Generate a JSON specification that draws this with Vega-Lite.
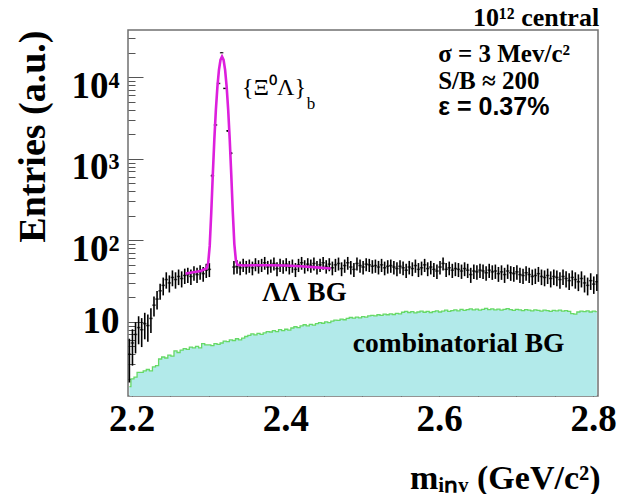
{
  "$schema": "https://vega.github.io/schema/vega-lite/v6.json",
  "width": 470,
  "height": 366,
  "autosize": {"type": "none"},
  "padding": {"left": 128, "top": 30, "right": 20, "bottom": 98},
  "background": "white",
  "config": {"view": {"stroke": "#707070", "strokeWidth": 1.5}, "font": "Liberation Serif"},
  "title": {"text": "10¹² central", "anchor": "end", "font": "Liberation Serif", "fontWeight": "bold", "fontSize": 26, "color": "black", "offset": 4, "dx": -17, "dy": 7},
  "datasets": {
    "h": [
      {"x":2.197,"y":4,"e":2.2},{"x":2.201,"y":5.5,"e":2.6},{"x":2.205,"y":7,"e":2.9},{"x":2.209,"y":8.5,"e":3.2},{"x":2.213,"y":8,"e":3.1},{"x":2.217,"y":9.5,"e":3.4},{"x":2.221,"y":9,"e":3.3},{"x":2.225,"y":11,"e":3.7},{"x":2.229,"y":16,"e":4.4},{"x":2.233,"y":19,"e":4.8},
      {"x":2.237,"y":24,"e":5.4},{"x":2.241,"y":28,"e":6.9},{"x":2.245,"y":33,"e":7.5},{"x":2.249,"y":30,"e":7.1},{"x":2.253,"y":35,"e":7.7},{"x":2.257,"y":33,"e":7.5},{"x":2.261,"y":36,"e":7.8},{"x":2.265,"y":34,"e":7.6},{"x":2.269,"y":37,"e":7.9},{"x":2.273,"y":38,"e":8.0},
      {"x":2.277,"y":36,"e":7.8},{"x":2.281,"y":40,"e":8.2},{"x":2.285,"y":38,"e":8.0},{"x":2.289,"y":41,"e":8.3},{"x":2.293,"y":39,"e":8.1},{"x":2.297,"y":43,"e":8.5},{"x":2.301,"y":44,"e":8.6},{"x":2.305,"y":620,"e":27},{"x":2.309,"y":2600,"e":56},{"x":2.313,"y":8400,"e":100},
      {"x":2.317,"y":20000,"e":156},{"x":2.321,"y":7300,"e":94},{"x":2.325,"y":2200,"e":52},{"x":2.329,"y":1170,"e":38},{"x":2.333,"y":47,"e":8.9},{"x":2.337,"y":48,"e":9.0},{"x":2.341,"y":46,"e":8.8},{"x":2.345,"y":50,"e":9.2},{"x":2.349,"y":47,"e":8.9},{"x":2.353,"y":49,"e":9.1},
      {"x":2.357,"y":46,"e":8.8},{"x":2.361,"y":51,"e":9.3},{"x":2.365,"y":48,"e":9.0},{"x":2.369,"y":50,"e":9.2},{"x":2.373,"y":53,"e":9.5},{"x":2.377,"y":47,"e":8.9},{"x":2.381,"y":49,"e":9.1},{"x":2.385,"y":52,"e":9.4},{"x":2.389,"y":45,"e":8.7},{"x":2.393,"y":50,"e":9.2},
      {"x":2.397,"y":48,"e":9.0},{"x":2.401,"y":51,"e":9.3},{"x":2.405,"y":47,"e":8.9},{"x":2.409,"y":49,"e":9.1},{"x":2.413,"y":44,"e":8.6},{"x":2.417,"y":50,"e":9.2},{"x":2.421,"y":53,"e":9.5},{"x":2.425,"y":48,"e":9.0},{"x":2.429,"y":51,"e":9.3},{"x":2.433,"y":49,"e":9.1},
      {"x":2.437,"y":52,"e":9.4},{"x":2.441,"y":47,"e":8.9},{"x":2.445,"y":50,"e":9.2},{"x":2.449,"y":53,"e":9.5},{"x":2.453,"y":48,"e":9.0},{"x":2.457,"y":51,"e":9.3},{"x":2.461,"y":46,"e":8.8},{"x":2.465,"y":50,"e":9.2},{"x":2.469,"y":52,"e":9.4},{"x":2.473,"y":45,"e":8.7},
      {"x":2.477,"y":49,"e":9.1},{"x":2.481,"y":53,"e":9.5},{"x":2.485,"y":47,"e":8.9},{"x":2.489,"y":44,"e":8.6},{"x":2.493,"y":52,"e":9.4},{"x":2.497,"y":49,"e":9.1},{"x":2.501,"y":47,"e":8.9},{"x":2.505,"y":51,"e":9.3},{"x":2.509,"y":50,"e":9.2},{"x":2.513,"y":48,"e":9.0},
      {"x":2.517,"y":49,"e":9.1},{"x":2.521,"y":47,"e":8.9},{"x":2.525,"y":50,"e":9.2},{"x":2.529,"y":46,"e":8.8},{"x":2.533,"y":48,"e":9.0},{"x":2.537,"y":49,"e":9.1},{"x":2.541,"y":47,"e":8.9},{"x":2.545,"y":45,"e":8.7},{"x":2.549,"y":48,"e":9.0},{"x":2.553,"y":46,"e":8.8},
      {"x":2.557,"y":43,"e":8.5},{"x":2.561,"y":47,"e":8.9},{"x":2.565,"y":45,"e":8.7},{"x":2.569,"y":49,"e":9.1},{"x":2.573,"y":44,"e":8.6},{"x":2.577,"y":46,"e":8.8},{"x":2.581,"y":50,"e":9.2},{"x":2.585,"y":45,"e":8.7},{"x":2.589,"y":47,"e":8.9},{"x":2.593,"y":44,"e":8.6},
      {"x":2.597,"y":42,"e":8.4},{"x":2.601,"y":47,"e":8.9},{"x":2.605,"y":52,"e":9.4},{"x":2.609,"y":44,"e":8.6},{"x":2.613,"y":46,"e":8.8},{"x":2.617,"y":43,"e":8.5},{"x":2.621,"y":45,"e":8.7},{"x":2.625,"y":44,"e":8.6},{"x":2.629,"y":42,"e":8.4},{"x":2.633,"y":45,"e":8.7},
      {"x":2.637,"y":43,"e":8.5},{"x":2.641,"y":38,"e":8.0},{"x":2.645,"y":42,"e":8.4},{"x":2.649,"y":41,"e":8.3},{"x":2.653,"y":43,"e":8.5},{"x":2.657,"y":42,"e":8.4},{"x":2.661,"y":40,"e":8.2},{"x":2.665,"y":43,"e":8.5},{"x":2.669,"y":41,"e":8.3},{"x":2.673,"y":42,"e":8.4},
      {"x":2.677,"y":39,"e":8.1},{"x":2.681,"y":41,"e":8.3},{"x":2.685,"y":38,"e":8.0},{"x":2.689,"y":42,"e":8.4},{"x":2.693,"y":40,"e":8.2},{"x":2.697,"y":39,"e":8.1},{"x":2.701,"y":41,"e":8.3},{"x":2.705,"y":38,"e":8.0},{"x":2.709,"y":37,"e":7.9},{"x":2.713,"y":40,"e":8.2},
      {"x":2.717,"y":38,"e":8.0},{"x":2.721,"y":36,"e":7.8},{"x":2.725,"y":37,"e":7.9},{"x":2.729,"y":39,"e":8.1},{"x":2.733,"y":36,"e":7.8},{"x":2.737,"y":35,"e":7.7},{"x":2.741,"y":37,"e":7.9},{"x":2.745,"y":34,"e":7.6},{"x":2.749,"y":36,"e":7.8},{"x":2.753,"y":35,"e":7.7},
      {"x":2.757,"y":33,"e":7.5},{"x":2.761,"y":36,"e":7.8},{"x":2.765,"y":34,"e":7.6},{"x":2.769,"y":32,"e":7.4},{"x":2.773,"y":35,"e":7.7},{"x":2.777,"y":33,"e":7.5},{"x":2.781,"y":31,"e":7.2},{"x":2.785,"y":34,"e":7.6},{"x":2.789,"y":30,"e":7.1},{"x":2.793,"y":28,"e":6.9},
      {"x":2.797,"y":32,"e":7.4},{"x":2.801,"y":29,"e":7.0},{"x":2.805,"y":31,"e":7.2}
    ],
    "comb": [
      {"x":2.197,"y":1.6},{"x":2.201,"y":2.0},{"x":2.205,"y":2.1},{"x":2.209,"y":2.4},{"x":2.213,"y":2.4},{"x":2.217,"y":2.5},{"x":2.221,"y":2.6},{"x":2.225,"y":2.5},{"x":2.229,"y":2.8},{"x":2.233,"y":2.9},
      {"x":2.237,"y":3.5},{"x":2.241,"y":3.7},{"x":2.245,"y":3.6},{"x":2.249,"y":3.9},{"x":2.253,"y":3.8},{"x":2.257,"y":4.4},{"x":2.261,"y":4.2},{"x":2.265,"y":4.5},{"x":2.269,"y":4.7},{"x":2.273,"y":4.6},
      {"x":2.277,"y":4.9},{"x":2.281,"y":4.8},{"x":2.285,"y":5.0},{"x":2.289,"y":4.8},{"x":2.293,"y":5.4},{"x":2.297,"y":5.2},{"x":2.301,"y":5.2},{"x":2.305,"y":5.1},{"x":2.309,"y":5.4},{"x":2.313,"y":5.3},
      {"x":2.317,"y":5.5},{"x":2.321,"y":5.8},{"x":2.325,"y":5.7},{"x":2.329,"y":6.0},{"x":2.333,"y":5.9},{"x":2.337,"y":6.2},{"x":2.341,"y":6.0},{"x":2.345,"y":6.3},{"x":2.349,"y":6.6},{"x":2.353,"y":6.8},
      {"x":2.357,"y":7.1},{"x":2.361,"y":6.9},{"x":2.365,"y":7.2},{"x":2.369,"y":7.0},{"x":2.373,"y":7.3},{"x":2.377,"y":7.6},{"x":2.381,"y":7.5},{"x":2.385,"y":7.8},{"x":2.389,"y":7.6},{"x":2.393,"y":8.0},
      {"x":2.397,"y":7.8},{"x":2.401,"y":8.1},{"x":2.405,"y":7.9},{"x":2.409,"y":8.4},{"x":2.413,"y":8.7},{"x":2.417,"y":8.5},{"x":2.421,"y":8.9},{"x":2.425,"y":9.2},{"x":2.429,"y":8.9},{"x":2.433,"y":9.3},
      {"x":2.437,"y":9.1},{"x":2.441,"y":9.5},{"x":2.445,"y":9.8},{"x":2.449,"y":9.6},{"x":2.453,"y":10.0},{"x":2.457,"y":9.8},{"x":2.461,"y":10.2},{"x":2.465,"y":10.5},{"x":2.469,"y":10.4},{"x":2.473,"y":10.8},
      {"x":2.477,"y":10.6},{"x":2.481,"y":11.0},{"x":2.485,"y":11.3},{"x":2.489,"y":11.1},{"x":2.493,"y":11.4},{"x":2.497,"y":11.2},{"x":2.501,"y":11.6},{"x":2.505,"y":11.4},{"x":2.509,"y":11.8},{"x":2.513,"y":12.0},
      {"x":2.517,"y":11.8},{"x":2.521,"y":12.2},{"x":2.525,"y":12.0},{"x":2.529,"y":12.4},{"x":2.533,"y":12.2},{"x":2.537,"y":12.5},{"x":2.541,"y":12.3},{"x":2.545,"y":12.7},{"x":2.549,"y":12.5},{"x":2.553,"y":13.1},
      {"x":2.557,"y":13.4},{"x":2.561,"y":13.0},{"x":2.565,"y":13.3},{"x":2.569,"y":12.9},{"x":2.573,"y":13.2},{"x":2.577,"y":13.5},{"x":2.581,"y":13.1},{"x":2.585,"y":13.4},{"x":2.589,"y":13.0},{"x":2.593,"y":13.3},
      {"x":2.597,"y":13.6},{"x":2.601,"y":13.2},{"x":2.605,"y":13.5},{"x":2.609,"y":13.9},{"x":2.613,"y":13.4},{"x":2.617,"y":13.7},{"x":2.621,"y":14.0},{"x":2.625,"y":13.6},{"x":2.629,"y":14.2},{"x":2.633,"y":13.8},
      {"x":2.637,"y":14.1},{"x":2.641,"y":14.4},{"x":2.645,"y":14.0},{"x":2.649,"y":14.3},{"x":2.653,"y":13.9},{"x":2.657,"y":14.2},{"x":2.661,"y":14.6},{"x":2.665,"y":14.1},{"x":2.669,"y":14.4},{"x":2.673,"y":14.0},
      {"x":2.677,"y":14.3},{"x":2.681,"y":13.9},{"x":2.685,"y":14.2},{"x":2.689,"y":14.5},{"x":2.693,"y":14.1},{"x":2.697,"y":13.8},{"x":2.701,"y":14.2},{"x":2.705,"y":14.0},{"x":2.709,"y":13.7},{"x":2.713,"y":14.1},
      {"x":2.717,"y":13.9},{"x":2.721,"y":13.6},{"x":2.725,"y":14.0},{"x":2.729,"y":13.8},{"x":2.733,"y":13.5},{"x":2.737,"y":13.9},{"x":2.741,"y":13.7},{"x":2.745,"y":13.4},{"x":2.749,"y":13.8},{"x":2.753,"y":13.6},
      {"x":2.757,"y":13.9},{"x":2.761,"y":13.5},{"x":2.765,"y":13.7},{"x":2.769,"y":13.4},{"x":2.773,"y":12.6},{"x":2.777,"y":12.4},{"x":2.781,"y":13.2},{"x":2.785,"y":13.5},{"x":2.789,"y":13.3},{"x":2.793,"y":13.6},
      {"x":2.797,"y":13.2},{"x":2.801,"y":13.5},{"x":2.805,"y":13.3}
    ],
    "fit": [
      {"x":2.270,"y":39},{"x":2.280,"y":40.5},{"x":2.290,"y":42},{"x":2.2975,"y":45.4},{"x":2.2995,"y":52.5},{"x":2.3015,"y":86},{"x":2.3035,"y":219},{"x":2.3055,"y":641},{"x":2.3075,"y":1729},{"x":2.3095,"y":3991},{"x":2.3115,"y":7686},{"x":2.3135,"y":12306},{"x":2.3155,"y":16336},{"x":2.3175,"y":17945},{"x":2.3195,"y":16337},{"x":2.3215,"y":12307},{"x":2.3235,"y":7687},{"x":2.3255,"y":3993},{"x":2.3275,"y":1731},{"x":2.3295,"y":643},{"x":2.3315,"y":222},{"x":2.3335,"y":90},{"x":2.3355,"y":57},{"x":2.3375,"y":50},{"x":2.345,"y":49},{"x":2.36,"y":49.5},{"x":2.38,"y":49.5},{"x":2.40,"y":49},{"x":2.42,"y":48},{"x":2.44,"y":46.5},{"x":2.459,"y":45}
    ],
    "serifBold": [
      {"t":"σ = 3 Mev/c²","x":2.5986,"y":19300,"s":25},
      {"t":"S/B ≈ 200","x":2.5986,"y":9020,"s":25},
      {"t":"ΛΛ BG","x":2.3697,"y":22.5,"s":27},
      {"t":"combinatorial BG","x":2.4876,"y":5.35,"s":27.5}
    ],
    "sansBold": [
      {"t":"ε = 0.37%","x":2.5986,"y":4330,"s":25}
    ],
    "serifPlain": [
      {"t":"{Ξ⁰Λ}","x":2.3436,"y":7390,"s":24},
      {"t":"b","x":2.4276,"y":4700,"s":17}
    ]
  },
  "encoding": {
    "x": {
      "field": "x", "type": "quantitative",
      "scale": {"domain": [2.1952, 2.8065], "nice": false, "zero": false},
      "axis": {
        "values": [2.2,2.25,2.3,2.35,2.4,2.45,2.5,2.55,2.6,2.65,2.7,2.75,2.8],
        "labelExpr": "abs(datum.value*5 - round(datum.value*5)) < 0.001 ? format(datum.value, '.1f') : ''",
        "domain": false, "grid": false,
        "tickColor": "#555", "tickWidth": 1,
        "tickSize": {"condition": {"test": "abs(datum.value*5 - round(datum.value*5)) < 0.001", "value": -12}, "value": -6},
        "labelFont": "Liberation Serif", "labelFontWeight": "bold", "labelFontSize": 37, "labelColor": "black",
        "labelPadding": 17, "labelFlush": false, "labelOverlap": false, "labelBound": false,
        "title": "mᵢₙᵥ (GeV/c²)", "titleFont": "Liberation Serif", "titleFontWeight": "bold", "titleFontSize": 34, "titleColor": "black",
        "titleX": 472, "titleY": 92, "titleAlign": "right", "titleBaseline": "alphabetic"
      }
    },
    "y": {
      "field": "y", "type": "quantitative",
      "scale": {"type": "log", "domain": [1.23, 38000], "nice": false},
      "axis": {
        "values": [2,3,4,5,6,7,8,9,10,20,30,40,50,60,70,80,90,100,200,300,400,500,600,700,800,900,1000,2000,3000,4000,5000,6000,7000,8000,9000,10000,20000,30000],
        "labelExpr": "datum.value == 10 ? '10' : datum.value == 100 ? '10²' : datum.value == 1000 ? '10³' : datum.value == 10000 ? '10⁴' : ''",
        "domain": false, "grid": false,
        "tickColor": "#555", "tickWidth": 1,
        "tickSize": {"condition": {"test": "indexof([10,100,1000,10000], datum.value) >= 0", "value": -15}, "value": -7},
        "labelFont": "Liberation Serif", "labelFontWeight": "bold", "labelFontSize": 37, "labelColor": "black",
        "labelPadding": 24, "labelOverlap": false, "labelBound": false, "labelAlign": "right", "labelBaseline": "middle",
        "labelOffset": {"condition": {"test": "datum.value > 10", "value": 9}, "value": 0},
        "title": "Entries (a.u.)", "titleFont": "Liberation Serif", "titleFontWeight": "bold", "titleFontSize": 38, "titleColor": "black",
        "titleX": -95, "titleY": 0, "titleAngle": -90, "titleAlign": "right", "titleBaseline": "middle"
      }
    }
  },
  "layer": [
    {
      "data": {"name": "comb"},
      "mark": {"type": "area", "interpolate": "step", "color": "#b2eaea", "clip": true},
      "encoding": {"y2": {"datum": 1.0}}
    },
    {
      "data": {"name": "comb"},
      "mark": {"type": "line", "interpolate": "step", "color": "#66d966", "strokeWidth": 1.3, "clip": true}
    },
    {
      "data": {"name": "h"},
      "mark": {"type": "errorbar", "ticks": false, "thickness": 1.6, "color": "black", "clip": true},
      "encoding": {"yError": {"field": "e"}}
    },
    {
      "data": {"name": "h"},
      "mark": {"type": "tick", "orient": "horizontal", "size": 3.5, "thickness": 1.5, "color": "black", "clip": true}
    },
    {
      "data": {"name": "fit"},
      "mark": {"type": "line", "color": "#dd1fdd", "strokeWidth": 2.6, "clip": true}
    },
    {
      "data": {"name": "serifBold"},
      "mark": {"type": "text", "align": "left", "baseline": "middle", "color": "black", "font": "Liberation Serif", "fontWeight": "bold"},
      "encoding": {"text": {"field": "t"}, "size": {"field": "s", "type": "quantitative", "scale": null}}
    },
    {
      "data": {"name": "sansBold"},
      "mark": {"type": "text", "align": "left", "baseline": "middle", "color": "black", "font": "Liberation Sans", "fontWeight": "bold"},
      "encoding": {"text": {"field": "t"}, "size": {"field": "s", "type": "quantitative", "scale": null}}
    },
    {
      "data": {"name": "serifPlain"},
      "mark": {"type": "text", "align": "left", "baseline": "middle", "color": "black", "font": "Liberation Serif", "fontWeight": "normal"},
      "encoding": {"text": {"field": "t"}, "size": {"field": "s", "type": "quantitative", "scale": null}}
    }
  ]
}
